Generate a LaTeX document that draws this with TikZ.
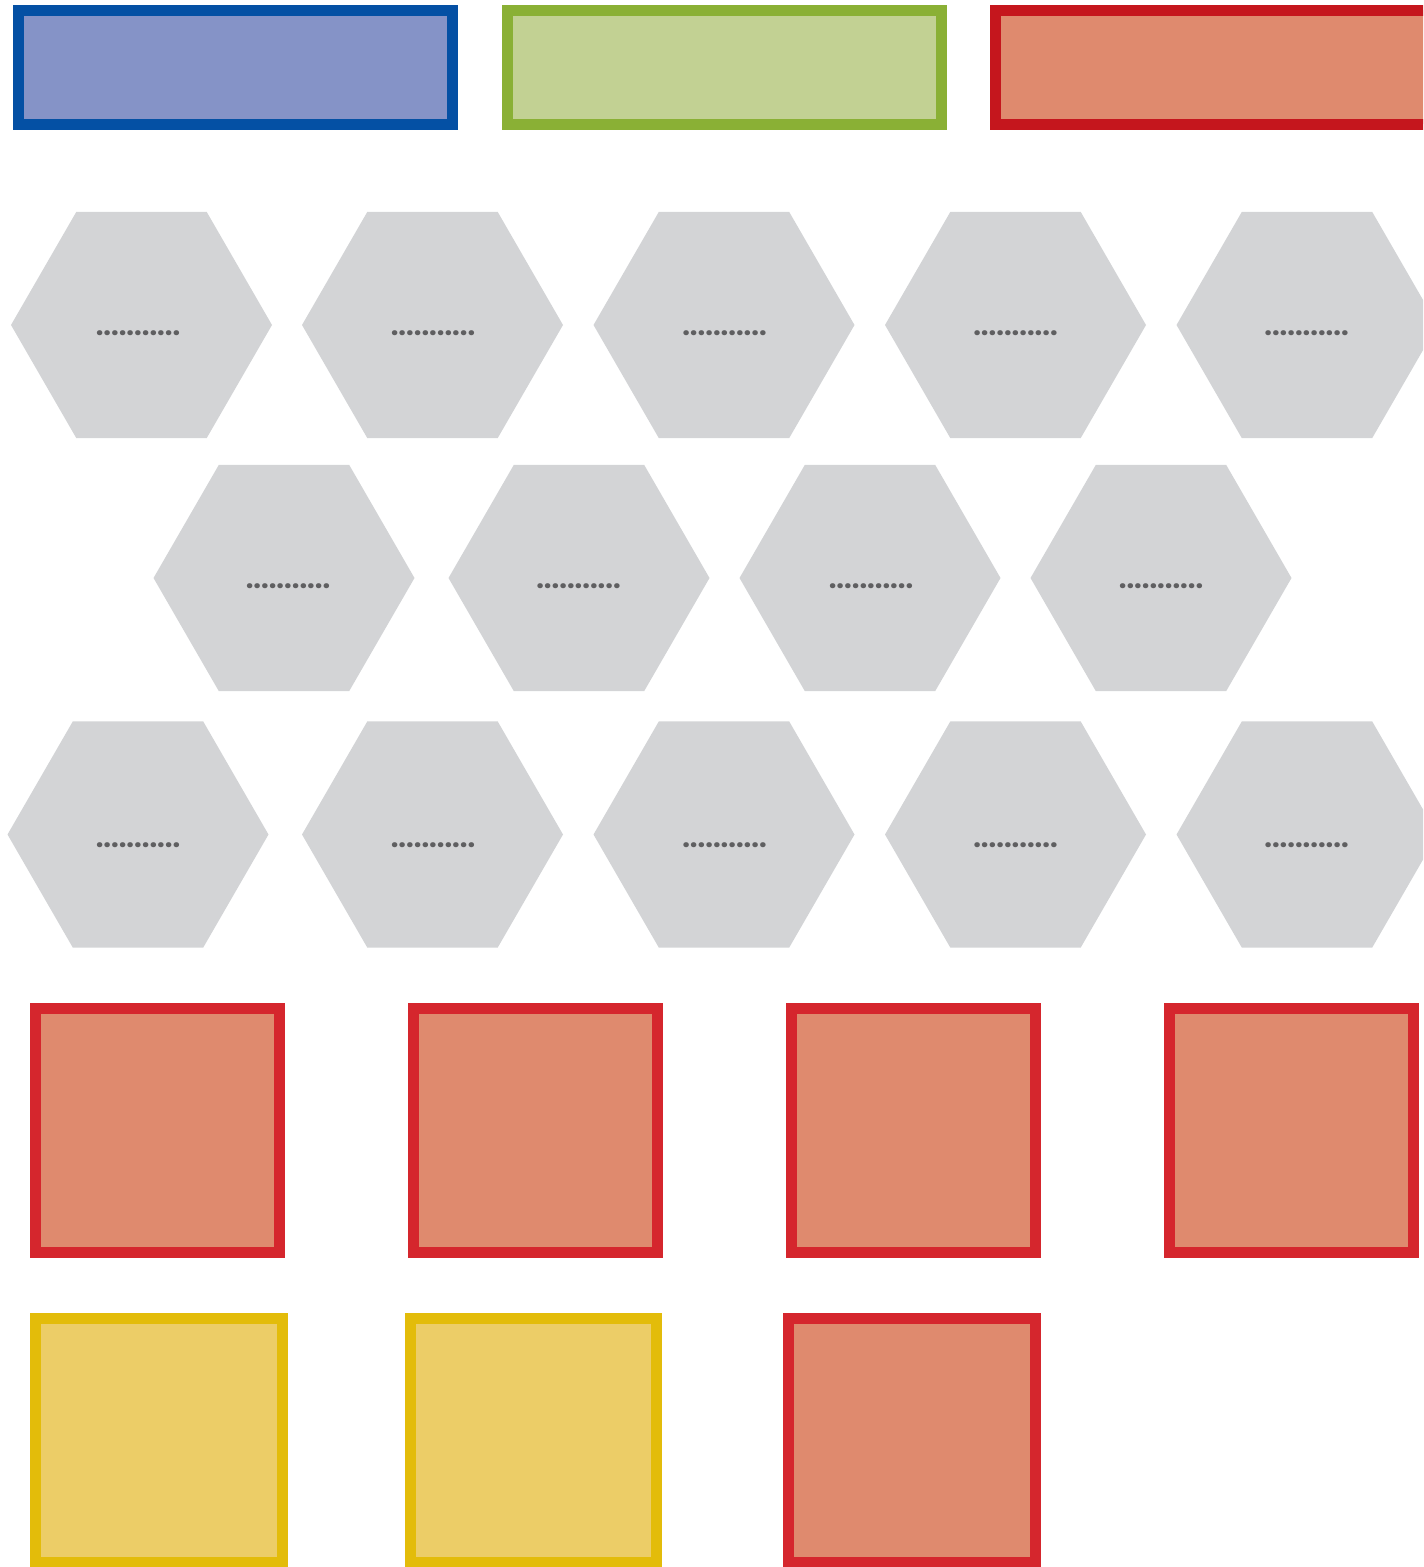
\documentclass[tikz,border=0pt]{standalone}
\usepackage{fontspec}
\newfontfamily\dotfont{Poppins}
\usetikzlibrary{shapes.geometric}
\definecolor{bluebd}{HTML}{0450A4}
\definecolor{bluefl}{HTML}{8593C7}
\definecolor{greenbd}{HTML}{8AB035}
\definecolor{greenfl}{HTML}{C2D193}
\definecolor{redtopbd}{HTML}{C5161D}
\definecolor{redbd}{HTML}{D5262D}
\definecolor{redfl}{HTML}{DF8A6E}
\definecolor{yelbd}{HTML}{E3BC0A}
\definecolor{yelfl}{HTML}{ECCD67}
\definecolor{hexfl}{HTML}{D3D4D6}
\definecolor{dotc}{HTML}{5F5F61}
\tikzset{
  bar/.style={rectangle, inner sep=0pt, outer sep=0pt, line width=5.5pt, minimum width=217pt, minimum height=57pt},
  sq/.style={rectangle, inner sep=0pt, outer sep=0pt, line width=5.5pt, minimum width=122pt, minimum height=122pt},
  hexa/.style={regular polygon, regular polygon sides=6, fill=hexfl, draw=none, inner sep=0pt, minimum size=130.5pt},
  dots/.style={text=dotc, font=\dotfont\bfseries\fontsize{13.6}{14}\selectfont, inner sep=0pt},
}
\begin{document}
\begin{tikzpicture}[x=0.5pt,y=-0.5pt]
\useasboundingbox (0,0) rectangle (1423,1567);
\clip (0,0) rectangle (1423,1567);
% top bars
\node[bar, draw=bluebd, fill=bluefl] (b1) at (235.5,67.5) {};
\node[bar, draw=greenbd, fill=greenfl] (b2) at (724,67.5) {};
\node[bar, draw=redtopbd, fill=redfl] (b3) at (1212,67.5) {};
% hexagons row 1
\foreach \x/\tx [count=\i] in {141.5/138,432.5/433,724/724.5,1015.5/1015.5,1307/1306.5}{
  \node[hexa] (h1\i) at (\x,325) {};
  \node[dots] (t1\i) at (\tx,333) {...........};
}
% row 2
\foreach \x/\tx [count=\i] in {284/288,579/578.5,870/871,1161/1161}{
  \node[hexa] (h2\i) at (\x,578) {};
  \node[dots] (t2\i) at (\tx,586) {...........};
}
% row 3
\foreach \x/\tx [count=\i] in {138/138,432.5/433,724/724.5,1015.5/1015.5,1307/1306.5}{
  \node[hexa] (h3\i) at (\x,834.5) {};
  \node[dots] (t3\i) at (\tx,845) {...........};
}
% squares row 1
\foreach \x [count=\i] in {157.5,535.5,913.5,1291.5}{
  \node[sq, draw=redbd, fill=redfl] (s1\i) at (\x,1130) {};
}
% squares row 2
\node[sq, draw=yelbd, fill=yelfl, minimum width=123.5pt] (s21) at (159,1440) {};
\node[sq, draw=yelbd, fill=yelfl, minimum width=123pt] (s22) at (533.5,1440) {};
\node[sq, draw=redbd, fill=redfl, minimum width=123.5pt] (s23) at (912,1440) {};
\end{tikzpicture}
\end{document}
